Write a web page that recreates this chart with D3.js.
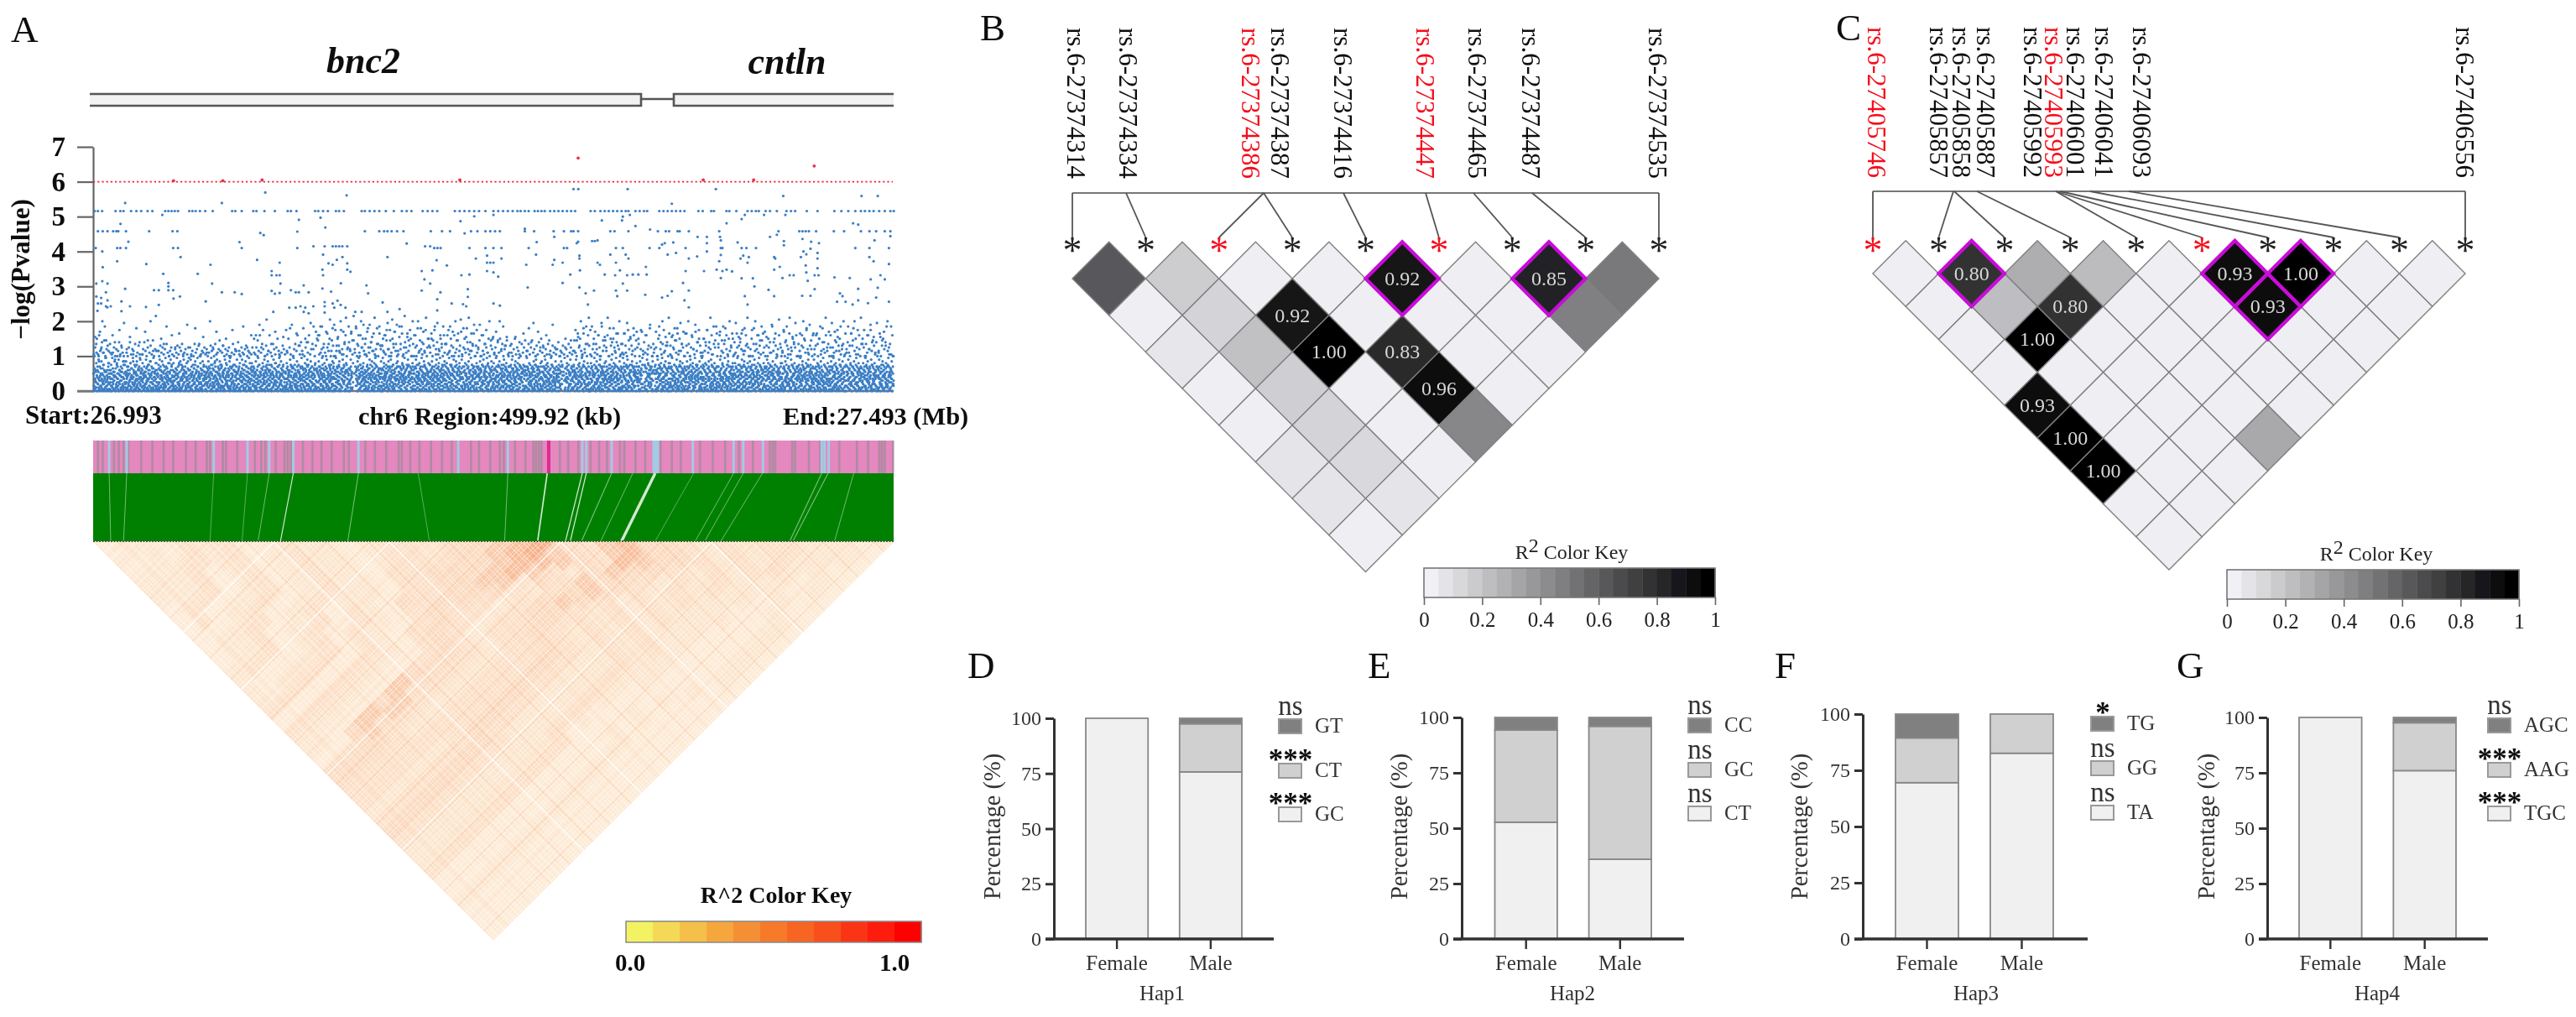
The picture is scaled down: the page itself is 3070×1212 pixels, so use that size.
<!DOCTYPE html>
<html><head><meta charset="utf-8">
<script src="https://d3js.org/d3.v7.min.js"></script>
<style>html,body{margin:0;padding:0;background:#fff}svg{display:block}text{font-family:'Liberation Serif','Times New Roman',serif}</style>
</head><body><svg id="root" width="3070" height="1212" viewBox="0 0 3070 1212"><defs><filter id="soft" filterUnits="userSpaceOnUse" x="0" y="0" width="3070" height="1212"><feGaussianBlur stdDeviation=".55"/></filter></defs><g id="c" filter="url(#soft)"><rect width="3070" height="1212" fill="#fff"/></g></svg>
<script>
// ---------- Panel A data ----------
const geneNames = ["bnc2","cntln"];
const pvalTicks = [0,1,2,3,4,5,6,7];
const threshold = 6;
const tier515 = [1,3,5.6,14,17,19,23.7,27,30,34,37,45,47,49,51,53,60,62,64,66.7,70,74.7,86.8,88.8,92.8,100,102,107,113.5,121.5,123.5,127,138.6,140.6,143.6,146.6,151.6,153.6,156.6,167.7,169.7,172.7,175.7,178.7,182.8,187.8,192.8,195.8,198.8,205.8,208.9,211.9,214.9,225.9,228.9,231.9,234.9,238,241,245,250,253,256,259,262,265,267,269.6,272,275.7,277.8,280,282,285.4,288,290.6,293.2,295.9,298.5,301,310.7,313.3,316.8,319.5,322,324.7,327.3,330,332.6,334.3,338.7,341.3,344,346,353.6,356.2,358.8,361.4,364,366.7,369.3,378,380.7,386,387.7,395.5,397.3,401.7,408.7,411.3,413.9,415.7,420,422.7,427,433,435.8,438.4,445.7,452.4,462.9,467.3,471.6,476,479.5,482,484.8,487.4,490.9,494.4,497.9,500];
const tier458 = [3,6,9,12.5,14.5,15.7,20.5,35,49.6,52.6,169.7,178.7,181.7,183.8,186.4,189.8,193.8,210.9,217.9,222.9,236,240,245,248,251,254,269.6,275.4,287.6,294,298.5,300,302.9,323,325.6,334.3,352.7,357.6,359.7,365,366.3,372,391,441,443,445,447,451.5,462.6,469,479.5,484.8,489,494.4,497.9];
const tier41 = [1.6,15,17,20.5,50,53,127.5,213,215,217,235,245,250,255,272,294,296,326.5,330.8,347.5,353.6,370,393,405,408,414,476,484.8,497];
const tier415 = [137.6,144.6,149.6,151.6,153.6,155.6,158.7,207.3,210.5];
const redHits = [[50.2,6.03],[81,6.03],[105.5,6.05],[229,6.05],[302.9,6.68],[450.3,6.45],[381,6.05],[412.5,6.05]];
const upperHits = [[20,5.39],[80.4,5.39],[107.5,5.69],[158.3,5.61],[43.2,5.05],[17.1,4.79],[128.5,4.91],[142,4.97],[145,4.69],[229.4,4.87],[238,5.01],[250,5.05],[104.4,4.53],[106.5,4.47],[127.5,4.57],[232,4.52],[22,4.28],[91.4,4.27],[92.8,4.1],[195.8,4.23],[5.7,4],[54.6,3.84],[102.4,3.76],[15,3.72],[33.2,3.64],[73.3,3.62],[116.5,3.68],[183.8,3.84],[143.6,3.91],[155.7,3.84],[152.2,3.76],[147,3.66],[149.6,3.62],[158.7,3.66],[214.5,3.75],[220.9,3.6],[239,3.8],[246,3.88],[255,3.8],[246,3.68],[248,3.68],[250,3.68],[6,3.55],[43.8,3.36],[65.3,3.36],[111.5,3.44],[114.5,3.32],[111.5,3.32],[116.5,3.32],[143.2,3.48],[143.6,3.32],[158.7,3.48],[160.7,3.42],[205.2,3.44],[211.9,3.46],[230,3.32],[235,3.34],[246,3.44],[250,3.4],[253,3.28],
[2,3.08],[5.7,3.15],[9,3.08],[8,2.83],[20,2.93],[47,3.1],[47,3.0],[38,2.89],[41,2.89],[47,2.89],[50,2.89],[74.3,3.08],[80.4,2.83],[88.4,2.83],[92.8,2.78],[117,3.08],[111.5,2.87],[113.5,2.79],[116.5,2.81],[123.5,2.89],[126.5,2.83],[128.5,2.83],[131.5,3.03],[134.6,2.83],[143.2,2.94],[148.6,2.85],[154.7,3.09],[170.7,3.03],[171.7,2.8],[205.2,2.88],[206.9,3.2],[210.5,3.08],[216.9,2.83],[234,2.92],
[2,2.71],[5,2.67],[9,2.6],[3,2.51],[5,2.51],[8,2.43],[11,2.43],[17.7,2.57],[17.7,2.29],[23,2.43],[33,2.41],[41,2.47],[50.2,2.65],[54.2,2.71],[70.3,2.57],[112.5,2.27],[122.5,2.39],[126.5,2.39],[129.5,2.43],[132.5,2.39],[137.5,2.43],[131.5,2.27],[134.6,2.23],[144.6,2.55],[144.6,2.43],[149.6,2.51],[152.6,2.59],[154.6,2.47],[157.6,2.39],[150.6,2.39],[180.8,2.54],[183.8,2.27],[191.4,2.35],[163.7,2.27],[167.7,2.27],[214.9,2.63],[214.9,2.31],[223.9,2.51],[231,2.49],[233,2.43],[234,2.7],[250,2.51],[254,2.45],
[288,4.42],[269.6,4.65],[277,4.27],[300,5.79],[303,5.79],[333.8,5.79],[388.9,5.79],[361.4,5.37],[431,5.59],[479.9,5.59],[490,5.59],[335.2,5.05],[330.8,5],[330.3,4.89],[317.7,4.89],[338.7,4.73],[407,5.05],[405,4.93],[395.6,4.81],[419,5.05],[432.3,5.05],[474.6,4.81],[477.8,4.77],[347.8,4.63],[302.9,4.28],[302,4.24],[311.6,4.3],[313.3,4.3],[315,4.32],[377.5,4.42],[383.3,4.42],[391.5,4.42],[392,4.32],[383.3,4.24],[402.5,4.26],[428,4.58],[422.7,4.42],[427,4.48],[443,4.36],[448.4,4.28],[453.3,4.24],[431.4,4.3],[431.4,4.18],[497.9,4.44],[488,4.32],[357,4.24],[355.3,4.2],[362.3,4.26],
[276.6,3.91],[303.7,3.88],[303.7,3.8],[288,3.76],[293.2,3.68],[287,3.62],[270.5,3.62],[323,3.91],[326.5,3.68],[332.6,3.91],[334.3,3.8],[315,3.68],[316.5,3.62],[358.8,3.91],[364,3.96],[372,3.8],[377.2,3.86],[383.3,4],[392,4.1],[392,3.9],[391,3.72],[389.4,3.48],[393,3.44],[395.6,3.48],[399,3.43],[392,3.24],[406,3.88],[404.3,3.8],[409.5,3.84],[408.7,3.68],[425.3,3.84],[426,3.8],[425.3,3.48],[428.8,3.56],[430.5,3.24],[435,3.32],[437.5,3.32],[445.4,3.92],[443.6,4],[442,3.84],[448,4.08],[452.4,3.96],[452.4,3.8],[445,3.6],[452.4,3.52],[445.4,3.4],[450.6,3.32],[453,3.32],[484.8,3.84],[487.4,3.72],[497,3.64],[491.7,3.32],[494.4,3.2],[485.6,3.2],
[298,3.34],[304,3.46],[293.2,3.1],[319.5,3.34],[326,3.32],[329,3.46],[333.5,3.32],[337,3.34],[340.5,3.34],[345.7,3.34],[345.2,3.56],[370,3.44],[381.5,3.44],[405,3.23],[412,3.23],[463,3.26],[472.5,3.24],[446.3,3.16],[368.4,3.1],[413,3],[271.4,2.97],[303.7,2.97],[330.8,3.08],
[326.5,2.88],[327.3,2.72],[333.5,2.88],[312.8,2.88],[307.6,2.8],[309,2.48],[344.8,2.76],[355.3,2.68],[358.8,2.73],[361.4,2.86],[372,2.88],[369.3,2.6],[372,2.4],[407,2.72],[408.7,2.48],[421.8,2.9],[425.3,2.72],[442.8,2.73],[448,2.73],[450.6,2.92],[466.4,2.8],[468,2.72],[477.8,2.93],[490,2.96],[489,2.68],[464.6,2.56],[469.9,2.56],[477.8,2.6],[483.9,2.52],[497,2.56],[474.3,2.48]];
// one string per 10 kb of the region; each character is a -log(P) reading in 0.05 steps; "." marks an empty spot
const floorBins = [
"0316259047183620594172063851","4170325968104273059618243705","2958140637295081462739015846","0637182945061738295041863720","5142093867215403968172065394",
"3860172945306182749503168240","7213960485217360948152037694","1504829637105248396071524983","6392017485363902174856301927","2741069358274160935827416093",
"0825317496082531749608253174","4691027385469102738546910273","1357086249135708624913570862","7048261593704826159370482615","2596043718259604371825960437",
"8103729546810372954681037295","0471825....39604718253960471","6295130847629513084762951308","3018467925301846792530184679","9462071358946207135894620713",
"1730594286173059428617305942","5083627419508362741950836274","2649180735264918073526491807","7315042968731504296873150429","0986273514098627351409862735",
"4127890356412789035641278903","6853019247685301924768530192","3290741865329074186532907418","1764528903176452890317645289","85024.....96176850243961768",
"2938471056293847105629384710","0175693824017569382401756938","7462018539746201853974620185","5329807614532980761453298076","3716094....25371609482537160",
"...1052783946105278394610527","2403761985240376198524037619","8951237460895123746089512374","1678042593167804259316780425","5024968137502496813750249681",
"3749105862374910586237491058","0862743915086274391508627439","6197380254619738025461973802","4530217689453021768945302176","9283564701928356470192835647",
"2076935148207693514820769351","7415086392741508639274150863","0392671854039267185403926718","5648392017564839201756483920","1825704369182570436918257043"];
const lowBins = [
"0a3k17c52m08e4b2h6019d3p7a14f60c82j5b39170e4g","1805c3a072d416b9i0283f5e71a0c4k92b60d381f7h25","40b17e2c9305a6g18d2074hc3b05e1a9f6420d7c1j38b","072c5a91e340b8d6127fa03c95h01e7b42d608a3c1g59","3a80d15c7e290b64f1a38c027ed59b1406ga27c3e0815",
"62b0193da7c05e81g4b2071f6d39a0c58e12b7046h3c9","05c2a8e13b607d94f0a2c63e18b5072kd49a1c06e3b78","917a03d5c2e8604bf1a93d07c25he8014b6a3d9c07f12","2e05b8a13c7d069f4a2b81c06e37d5a092f1c4b806e3a","a04c7e1928b05d63fa17c0924eb8036d1a5g02c7e9b34",
"06d3b91a72c5e084f2b6a19d03c7e58140be2a6d93c0f","3c81a05e7b294d06g1c3a85e02b7f4916d0a3ce82b507","b027d4e19a60c35f82b1e07d94a3c6082e5b1f7a039d4","19e06c3a82d5b07f4e1a93c60d28b5e047a1c9f3062db","5a02e8c17b4d90f36a1c805e27d4b93a06e1c7f28b04d",
"e30a7c15b92d608fe14a3c072b6d95e08a1c3f7b420d6","06c2e9a1..........b73d05e8c1a49f2b06d7e3a81c5","3b80e1c57a2d94f06b1e83c0a7d25f94e0b61c38a7d02","a5d07c3e19b28f4a06e2c71d93b05e8a1f4c27b06d39e","70e2b5a83d1c96f04e7a2b58c1d30e9f6a4b07d2c85e1",
"c3a06e1d85b27f94a0d3e6c18b52a07fe39d14c6a08b2","1f7b04d9e2a6c38b05f1d7a94e2c06b83d5a1e7c09f4b","6e0a3d82c5b17f09e4a6d1c38b07e25fa9d04c1e6b73a","d2807b5e1c3a96f40d2e7b8a15c06f39d2e0a7c4b81e5","04e9c2a7d1b83f56e0a4c9d27b18f03ea5d6c1b07e294",
"a71d06c3e5b28f94e1a7d0c36b52f8a09e1d4c73b06e2","39e1b07d4c2a86f05e3b1d9a07c4f28e6d0b5a1c37e92","c06a2e7d15b93f84a06e1c7d2b39f50e8a4d16c0b73e2","7b13e0a9d4c26f85b0e3a7c19d42f06e5b8a1d3c07e96","02d8a6c3e1b74f9.....0d26a5e8c17f3b90a4d6e2c18",
"e5c0b3a7d1924f68e0c5a3d7b19f06e24a8d1c7b30e59","4a07d2e6c1b83f95a0e4d6b27c18f05ea9d3c1b06e742","b92e0c5a7d13f68b04e9c2a7d51f3b08e6a1d4c7092eb","16d0a8e3c7b24f91d06e5a3c8b27f14e0d9a6c3b80e75","8c3e05b1a7d92f40.....e1b6d08a3f5c92e7d4a01b6c",
"...e3c7a05b1d28f96e4a0c7d31b85f0e2a6d9c14b07e3","d05a7e2c91b38f46a0e7d1c52b93f08e4a6d1c0b72e95","37c1e0a5d8b24f96c07e3a1d58b29f4e0c6a7d13b08e2","a84d06e2c1b75f93a0d8e6c23b17f05e4a9d2c60b1e37","05e9b3a7c1d26f84e0b5a9c73d12f06e8b4a1c7d30e95",
"c71a04e8d2b36f95c0a7e1d48b23f06e9a5c1d7b02e84","29d5e0a3c7b18f46d02e9a5c3b71f08e4d6a1c7b30e92","b6e03c8a1d75f29b0e6c3a8d14f70b5e2a9c0d6b13e78","71a4d0e6c2b85f39a0d7e4c61b28f05e3d9a1c7b04e86","e02c7a5d1b93f68e0c2a7d51b94f06e3a8c1d7b20e95",
"48d1a0e7c3b26f95d04a1e7c38b62f09e5a1d4c7b03e6","a3e07c5d2b19f84a0e3c7d52b18f06e9a4c1d7b02e36","06b9e2a7d4c18f35b0e6a9d27c41f08e3a5d1c7b60e92","d52a0c8e7b31f69d0a2c5e87b13f04e6d9a1c7b30e28","19c7e04a3d6b28f1c0e9a7d43b62f08e5a1d9c7b03e46"];
// readings from 0.5 upward in 0.05 steps
const bandBins = [
"0a3f16k2b8m4d07i3c5j1a9e2g60","2h05b9c1f7a3e60d8i2b4g1c7a05","17c0a4f2i6b3e9d05h1a7c2g4b80","3b6e0i1d8a4f25c7g0b3j9a1e6d2","0d5a8g2c7f1b4e90h3c6a1d8f5b2",
"6a1e3c9g0b5f7d2h4a8c1e06b3f9","2f8b0d5a3h7c1e94g0a6b2d7c5f1","b4e1a7c03g9d5f2a6h1b8c4e07d3","5c0g2a8e6b1d3f79a0c4h2b5e1d8","1i3d6a0f8c2b5e7g4a1d9c03b6f2",
"4k0b7f2a9d5m1c3h6e08a2g5b7d1","m2c5a0h8e3b6f1k4d9a07c2g5e1b","0p6c2k1f8b4s3a9e5h0d7m2g1b4i","9d3q0a6f2i8c5m1b7e4h0r3a6g2k","1m7b4r0e9a3h6c2o8f1d5k3a0j7g",
"6s2a9d4k1g7c0p3e8b5h1m6a2f0i","3d8o1b6j0e4r2a7g9c5m3f1k6d0h","k1a5q3c8f0i7d2n6b9e4h1a3r0g7","2g9d6m0b3p1e7a4j8c2k5f0o3h6a","7b1l4e0r6a3f9i2c5n8d1g4k0a6h",
"0m3f8a5q1c6j2e9b4h7d0p3a1k6g","5c2n7a0g4r1e8i3b6d9k2f5a0m7h","1h6b3p9d0k5a2f8m4c7e1j3a6g0o","8a4f1k6c0q3e7b2i9d5h1n4a0g6c","3e0j7a2m5d8b1h4f9c6k0a3g7e2l",
"6b2f9a1i4c7k0d5h3a8e2g6j1b4c","0g5c8a3e1k7b2f6d9i4a0h3c5f1j","4a9d2h6b0f3j1c7e5a8g2b4i0d6k","7c1f4a8e3b6h0j2d9a5g1c3f7b0e","2i5a0d7c4g1b9f3e6a2h0c8j4b1d",
"5j0c8a3n1f6k2d9b4q7e0h3a6m1g","1p6a4e0k9c3h7b2m5f8a1r4d0g6j","7d2m0a5q3g8b1k6f4c9i0n3e7a2h","3h9b6n1c4a8p0e5k2g7d1m4a0j6f","0k4a7e2o9d1i5c3m8b6g0q2f4a7h",
"c005f2a8k0m3e6b9h1p4d7g0i3a6n","6g3a9m1e5j0c8q2b4k7d1h6f0a3n","2n7c0h4a8f1l6e3b9o2d5i0k7g1a","9a5k2d6g0p3c7i1e8m4b0h6f3r1a","4f1m8a3j6c0h9q2e5b7k1d4g0n6a",
"0i6c3n9a2g5k1e8p4b7d0m3h6f1a","7e2k5a0q8d3h1m6c9g4b2j0n6f3a","3l8a6f1i4c0r7d2k5g9b1e3m0h6a","6c0p3a7j1g9e4n2b8d5k0i6f1m3a","1h5d9a2m7f3k0c6q4e8b1g5j0a3n",
"8b3g0n6a4k1r7d2i9e5c0m3f6h1a","2m7a4f9c1j6d3p0g8k5b2e7h0a4n","5e1i8c3a6n0g4q7d2k9f1b6m3a0h","0k6f2a9h4c7m1e3p8d5j0g6b2i4a","3c8n1a5g7k2e0i6r4d9f1h3b7m0a"];
// same idea from 1.0 to 2.75, for the sparser cloud
const midBins = [
"1b7q0e4k2h9s3","2c80f5j","4b1g8","1e9k3n","3a7h0c","5d1i","0g7b","2k4e9","6a0f3","1h5c",
"2c9i5f0l3","7e1b","3g0d6","1a8j4e","9c2h5p0d7l3g","0f6b3k1e8m4h","4d9n2g7c0k5i1","1e5i8b3m0g7d4","6a2c9j4f0l7e3i","3h7d1n5b9f0k",
"0c6k3g8e2m5a","5a9f1j4c7h2","7c2h6e0k9d3l","1g4b8m3d6i0f","5i0c7f2k9a","2e9k4h6b0","7b1d","3g8j0e5","6c1i4","0a5",
"3f9b6k0d2h7m","1h7e4c0j9b","5m0a8g3d6k1","2d6j9b1g4e","7f1c4i0","4e0h8k2b6m","1b5g9d3j7e0","6k0c4i8f2","2a8f5m1h9d","7e3h9c0k5a",
"1j5b8d3g6m0","0f7k4c9h2e","6a2i8d0l5","3e8h1m5b7j0","0d6k9f2i4c","4c7a1g8m3e","5j0e8b3h6k1","2h6d9k1f4m","7f0c4i8b2j","3b9e6k1h0"];
// reads of the strip and of the connecting band
const greyStripes = [3,6,13,16,19,22,30,37,44,50,58,64,71,73,81,83,90,101,105,107.5,114,119.5,121.5,123.5,131,137,142.6,149,156.6,159.7,170,176,183,190.8,192.8,198,203.8,211,217.9,224,228,236,241,248,254,256.5,263.5,270,275,276.6,278.4,280,291.5,296.7,303,310.7,316,321,329,331.7,338.7,344.8,354.4,361.4,367,379,387,394.7,403.4,412,422.6,424.4,426,436.6,438.4,447,454,466,477,484,491,492.6,494.4,499.6];
const blueStripes = [10,21,75.3,96.4,110,125,165.7,228,259,305.5,308,323.8,350,374.5,400,406,418.3,455,456.8,459.4];
const darkStripes = [284.5];
const connectorTops = [10,21,75.3,96.4,110,125,165.7,203,259,283.6,305.5,308,323.8,337,351,375,400,406,418,459,455,475];
const connectorBots = [11,19,73,93,103,117,159,210,257,277.6,295,298,305,317,330,351,376,382,392,437,435,463];
const connectorWide = [.9,.9,.7,.7,.9,1.2,1.0,.7,.9,1.7,1.2,1.2,1.1,.9,3.4,.7,.9,.9,.9,1.1,1.1,.9];
// LD triangle, readings per row from the top edge, 0 palest to 9 strongest
const ldRows = ["3443545345443455456678965786654545544434","344354534544345546678976578665454554443","43445453454434555667887658766545454443","3445345345443556667875467665454554433","444534534544355667756576654545444343","44453453454435566654567654545444343","4453453454436566545676545454443433","353453453543565545665454544433433","35345345354356545565545454443343","3345345354356545565454544433343","344534535435654556545454433343","34453453543565455654545433343","3453453543565455654454433343","453453543665455654454433343","43453543765455654454433343","4353543765455654454333433","453543675455654454334333","53543775455654453343333","3543765455654454334333","543675455654453343333","44366554565445334333","4366554565445334333","366554565445334333","66554565445334333","6554565445334333","554565445334333","54565445334333","4565445334333","565445334333","65445334333","5445334333","445334333","45334333","5334333","334333","34333","4333","333","33","3"];
const ldGapsStrong = [113,185,292,386];
const ldGapsWeak = [2.6,5.1,6.4,9.8,12.7,14.2,17.9,21.3,22.8,26.4,28.1,31.7,35.2,36.9,40.6,44.3,46,49.5,53.8,55.1,59.7,62.4,64.9,68.2,72.6,74.1,77.8,81.9,83.2,87.5,91.7,93.4,97.1,101.6,103.8,106.9,111.2,116.4,118.9,122.3,126.7,128.2,132.8,136.1,138.9,142.5,147.3,149.1,153.6,157.2,159.8,163.4,167.9,170.3,174.6,178.2,181.4,188.3,190.6,195.2,199.1,201.7,205.8,209.4,213.6,215.9,219.7,224.1,226.3,230.8,234.2,237.6,243.9,247.2,249.5,253.1,257.8,260.4,263.9,268.3,270.7,274.2,278.6,281.3,285.7,289.4,295.6,298.8,301.2,305.9,309.3,311.8,316.4,319.7,323.5,326.2,330.9,334.6,337.1,341.8,345.2,348.7,352.3,356.9,359.4,365.1,368.7,371.4,375.8,379.2,382.9,389.6,393.1,397.7,400.5,404.2,411.3,414.8,417.6,421.9,425.3,428.7,432.4,435.9,439.2,443.7,446.3,450.8,453.4,457.9,461.2,464.8,468.3,471.7,475.4,478.9,482.3,485.7,489.1,492.6,495.4,498.2];
const ldBandsWarm = [18,46,72,96,124,146,172,206,222,252,268,286,304,322,338,354,372,388,414,438,456,472,488];
const ldKeyLabels = ["0.0","1.0"];
// ---------- Panels B, C data ----------
const snpsB = ["rs.6-27374314","rs.6-27374334","rs.6-27374386","rs.6-27374387","rs.6-27374416","rs.6-27374447","rs.6-27374465","rs.6-27374487","rs.6-27374535"];
const redB = [2,5];
const rowsB = [[.63,.15,.01,.01,.92,.01,.85,.5],[.01,.12,.92,.01,.01,.01,.47],[.04,.2,1,.83,.01,.01],[.01,.14,.01,.96,.01],[.01,.12,.01,.44],[.05,.1,.01],[.05,.05],[.01]];
const hiB = [[0,4],[0,6]];
const snpsC = ["rs.6-27405746","rs.6-27405857","rs.6-27405858","rs.6-27405887","rs.6-27405992","rs.6-27405993","rs.6-27406001","rs.6-27406041","rs.6-27406093","rs.6-27406556"];
const redC = [0,5];
const rowsC = [[.01,.8,.28,.22,.01,.93,1,.01,.01],[.01,.21,.8,.01,.01,.93,.01,.01],[.01,1,.01,.01,.01,.01,.01],[.01,.01,.01,.01,.01,.01],[.93,.01,.01,.01,.01],[1,.01,.01,.3],[1,.01,.01],[.01,.01],[.01]];
const hiC = [[0,1],[0,5],[0,6],[1,5]];
const keyTicks = [0,.2,.4,.6,.8,1];
// ---------- Panels D-G data ----------
const sexes = ["Female","Male"];
const pctTicks = [0,25,50,75,100];
const hap1 = {name:"Hap1",labels:["GC","CT","GT"],sig:["***","***","ns"],Female:[100,0,0],Male:[75.7,21.8,2.5]};
const hap2 = {name:"Hap2",labels:["CT","GC","CC"],sig:["ns","ns","ns"],Female:[52.7,41.6,5.7],Male:[36,60,4]};
const hap3 = {name:"Hap3",labels:["TA","GG","TG"],sig:["ns","ns","*"],Female:[69.5,19.9,10.6],Male:[82.6,17.4,0]};
const hap4 = {name:"Hap4",labels:["TGC","AAG","AGC"],sig:["***","***","ns"],Female:[100,0,0],Male:[76,21.6,2.4]};
const barFills = ["#f0f0f0","#d0d0d0","#808080"];

const svg = d3.select("#c");
function txt(g,x,y,s,size,opt={}){const t=g.append("text").attr("x",x).attr("y",y).attr("font-size",size).attr("fill",opt.fill||"#111").text(s);
  if(opt.weight)t.attr("font-weight",opt.weight); if(opt.style)t.attr("font-style",opt.style); if(opt.anchor)t.attr("text-anchor",opt.anchor); if(opt.rot!=null)t.attr("transform",`rotate(${opt.rot} ${x} ${y})`); return t;}

// panel letters
[["A",13,50],["B",1168,48],["C",2188,48],["D",1153,808],["E",1630,808],["F",2115,808],["G",2594,808]].forEach(d=>txt(svg,d[1],d[2],d[0],45));

// ===== A =====
const gA = svg.append("g");
const xKb = d3.scaleLinear([0,499.92],[111,1065]);
const yP = d3.scaleLinear([0,7],[466,175]);
txt(gA,433,87,geneNames[0],44,{weight:"bold",style:"italic",anchor:"middle"});
txt(gA,938,88,geneNames[1],44,{weight:"bold",style:"italic",anchor:"middle"});
[[107,764],[803,1065]].forEach((e,i)=>{
  gA.append("rect").attr("x",e[0]).attr("y",112).attr("width",e[1]-e[0]).attr("height",14).attr("fill","#f2f2f2");
  const p=i==0?`M${e[0]},112H${e[1]}V126H${e[0]}`:`M${e[1]},112H${e[0]}V126H${e[1]}`;
  gA.append("path").attr("d",p).attr("fill","none").attr("stroke","#555").attr("stroke-width",2.6);
});
gA.append("line").attr("x1",764).attr("x2",803).attr("y1",118).attr("y2",118).attr("stroke","#555").attr("stroke-width",2.6);
const axP = gA.append("g").attr("transform","translate(111,0)").call(d3.axisLeft(yP).tickValues(pvalTicks).tickFormat(d3.format("d")).tickSize(19).tickPadding(14).tickSizeOuter(0));
axP.selectAll("path,line").attr("stroke","#666").attr("stroke-width",2.2);
axP.selectAll("text").attr("font-size",33).attr("font-weight","bold").attr("fill","#111").attr("font-family","Liberation Serif");
gA.append("line").attr("x1",92).attr("x2",1065).attr("y1",yP(0)).attr("y2",yP(0)).attr("stroke","#777").attr("stroke-width",2.4);
txt(gA,35,321,"−log(Pvalue)",31,{weight:"bold",anchor:"middle",rot:-90});
// points
const blue = [];
tier515.forEach(k=>blue.push([k,5.16]));
tier458.forEach(k=>blue.push([k,4.58]));
tier41.forEach(k=>blue.push([k,4.1]));
tier415.forEach(k=>blue.push([k,4.15]));
upperHits.forEach(d=>blue.push(d));
const reading = c=>parseInt(c,36)*0.05;
const addBins=(bins,base)=>bins.forEach((s,b)=>[...s].forEach((c,i)=>{if(c!==".")blue.push([(b+(i+.5)/s.length)*10,base+reading(c)]);}));
addBins(floorBins,0); addBins(lowBins,0); addBins(bandBins,.5); addBins(midBins,1);
gA.append("g").attr("fill","#3a7ec4").selectAll("circle").data(blue).join("circle").attr("cx",d=>xKb(d[0])).attr("cy",d=>yP(d[1])).attr("r",1.6);
gA.append("line").attr("x1",111).attr("x2",1064).attr("y1",yP(threshold)).attr("y2",yP(threshold)).attr("stroke","#f0203a").attr("stroke-width",1.8).attr("stroke-dasharray","2.2 3");
gA.append("g").attr("fill","#e8304a").selectAll("circle").data(redHits).join("circle").attr("cx",d=>xKb(d[0])).attr("cy",d=>yP(d[1])).attr("r",1.9);
txt(gA,30,505,"Start:26.993",31,{weight:"bold"});
txt(gA,427,506,"chr6 Region:499.92 (kb)",30.4,{weight:"bold"});
txt(gA,933,506,"End:27.493 (Mb)",30.4,{weight:"bold"});
// strip
gA.append("rect").attr("x",111).attr("y",525).attr("width",954).attr("height",39).attr("fill","#e488bf");
gA.append("g").selectAll("rect").data(greyStripes).join("rect").attr("x",d=>xKb(d)-1.3).attr("y",525).attr("width",2.6).attr("height",39).attr("fill","#8f8a8f").attr("opacity",.62);
gA.append("g").selectAll("rect").data(blueStripes).join("rect").attr("x",d=>xKb(d)-1.5).attr("y",525).attr("width",d=>d===350?8:3).attr("height",39).attr("fill","#a3cbe3");
gA.append("g").selectAll("rect").data(darkStripes).join("rect").attr("x",d=>xKb(d)-2).attr("y",525).attr("width",4).attr("height",39).attr("fill","#de2a92");
gA.append("rect").attr("x",111).attr("y",564).attr("width",954).attr("height",81).attr("fill","#018001");
gA.append("g").attr("stroke","#e8f4e8").selectAll("line").data(connectorTops).join("line").attr("x1",d=>xKb(d)).attr("y1",564).attr("x2",(d,i)=>xKb(connectorBots[i])).attr("y2",645).attr("stroke-width",(d,i)=>connectorWide[i]).attr("stroke-opacity",(d,i)=>connectorWide[i]<1.2?.55:.9);
// triangle
const nLD = ldRows.length;
const cellW = 954/nLD, triH = 475/nLD;
const ldColor = d3.scaleLinear([0,3,6,9],["#fff5e6","#fdeAd4","#fbdabf","#f6b088"]);
const topY=646;
d3.select("#root defs").append("clipPath").attr("id","tri").append("path").attr("d",`M111,${topY}H1065L588,${topY+475}Z`);
const gLD = gA.append("g").attr("clip-path","url(#tri)");
ldRows.forEach((row,r)=>{[...row].slice(0,nLD-r).forEach((c,i)=>{
  const cx = 111+cellW*(i+.5+r/2), cy = topY+triH*r;
  gLD.append("path").attr("d",`M${cx},${cy-triH-.4}L${cx+cellW/2+.4},${cy}L${cx},${cy+triH+.4}L${cx-cellW/2-.4},${cy}Z`).attr("fill",ldColor(+c));
});});
const slope=475/477;
function gapLines(list,w,op,col){
  list.forEach(k=>{const x=xKb(k);
    const dr=(1065-x)/2, dl=(x-111)/2;
    gLD.append("line").attr("x1",x).attr("y1",topY).attr("x2",x+dr).attr("y2",topY+dr*slope).attr("stroke",col).attr("stroke-width",w).attr("stroke-opacity",op);
    gLD.append("line").attr("x1",x).attr("y1",topY).attr("x2",x-dl).attr("y2",topY+dl*slope).attr("stroke",col).attr("stroke-width",w).attr("stroke-opacity",op);
  });}
gapLines(ldBandsWarm,1.6,.35,"#f8bf98");
gapLines(ldGapsWeak,1,.6,"#fff");
gapLines(ldGapsStrong,1.9,.75,"#fff");
gA.append("line").attr("x1",111).attr("x2",1065).attr("y1",645).attr("y2",645).attr("stroke","#3d5a2c").attr("stroke-width",2).attr("stroke-dasharray","2 1.5");
// A key
const keyA = d3.scaleLinear([0,.35,.7,1],["#f3f262","#f59a38","#f8501c","#ff0000"]);
const tilesA = d3.range(11).map(i=>i/10);
gA.append("g").selectAll("rect").data(tilesA).join("rect").attr("x",(d,i)=>746+i*32).attr("y",1098).attr("width",32.4).attr("height",25).attr("fill",d=>keyA(d));
gA.append("rect").attr("x",746).attr("y",1098).attr("width",352).attr("height",25).attr("fill","none").attr("stroke","#888").attr("stroke-width",1.5);
txt(gA,925,1076,"R^2 Color Key",28,{weight:"bold",anchor:"middle"});
txt(gA,751,1157,ldKeyLabels[0],29,{weight:"bold",anchor:"middle"});
txt(gA,1066,1157,ldKeyLabels[1],29,{weight:"bold",anchor:"middle"});

// ===== B, C =====
const ldGrey = d3.scaleLinear([0,1],["#f1f1f5","#000000"]);
function ldPanel(o){
  const g = svg.append("g");
  const n = o.snps.length;
  const xS = d3.scaleLinear([0,n-1],[o.x0,o.x1]);
  const h = (o.x1-o.x0)/(n-1)/2;
  o.labelX.forEach((x,i)=>{
    g.append("text").attr("transform",`translate(${x},${o.labelTop}) rotate(90)`).attr("dy",".33em").attr("font-size",o.labelSize).attr("fill",o.red.includes(i)?"#f5101c":"#111").text(o.snps[i]);
  });
  g.append("line").attr("x1",o.x0).attr("x2",o.x1).attr("y1",o.bracketY).attr("y2",o.bracketY).attr("stroke","#777").attr("stroke-width",2.2);
  o.lineTops.forEach((x,i)=>{
    g.append("line").attr("x1",x).attr("y1",o.bracketY).attr("x2",xS(i)).attr("y2",283).attr("stroke","#555").attr("stroke-width",1.8);
    g.append("text").attr("x",xS(i)).attr("y",314).attr("text-anchor","middle").attr("font-size",46).attr("fill",o.red.includes(i)?"#f5101c":"#222").text("*");
  });
  const poly=(cx,cy)=>`M${cx},${cy-h}L${cx+h},${cy}L${cx},${cy+h}L${cx-h},${cy}Z`;
  const cells=[];
  o.rows.forEach((row,r)=>row.forEach((v,c)=>cells.push({r,c,v,cx:xS(c+(r+1)/2),cy:o.y0+r*h})));
  g.append("g").selectAll("path").data(cells).join("path").attr("d",d=>poly(d.cx,d.cy)).attr("fill",d=>ldGrey(d.v)).attr("stroke","#808080").attr("stroke-width",1.4);
  const hi = cells.filter(d=>o.hi.some(e=>e[0]===d.r&&e[1]===d.c));
  g.append("g").selectAll("path").data(hi).join("path").attr("d",d=>poly(d.cx,d.cy)).attr("fill","none").attr("stroke","#c80cd8").attr("stroke-width",4.2).attr("stroke-linejoin","miter");
  g.append("g").selectAll("text").data(cells.filter(d=>d.v>=.8)).join("text").attr("x",d=>d.cx).attr("y",d=>d.cy+8).attr("text-anchor","middle").attr("font-size",24).attr("fill","#d8d8d8").text(d=>d.v.toFixed(2));
  // key
  const xK = d3.scaleLinear([0,1],[o.keyX0,o.keyX1]);
  const tiles = d3.range(20).map(i=>i/19);
  const tw=(o.keyX1-o.keyX0)/20;
  g.append("g").selectAll("rect").data(tiles).join("rect").attr("x",(d,i)=>o.keyX0+i*tw).attr("y",o.keyY).attr("width",tw+.4).attr("height",35).attr("fill",d=>ldGrey(d));
  g.append("rect").attr("x",o.keyX0).attr("y",o.keyY).attr("width",o.keyX1-o.keyX0).attr("height",35).attr("fill","none").attr("stroke","#777").attr("stroke-width",1.6);
  const ax=g.append("g").attr("transform",`translate(0,${o.keyY+35})`).call(d3.axisBottom(xK).tickValues(keyTicks).tickFormat(d=>d===0||d===1?d3.format("d")(d):d3.format(".1f")(d)).tickSize(9).tickPadding(8).tickSizeOuter(0));
  ax.select(".domain").remove();
  ax.selectAll("line").attr("stroke","#666").attr("stroke-width",1.6);
  ax.selectAll("text").attr("font-size",25).attr("fill","#222").attr("font-family","Liberation Serif");
  const t=g.append("text").attr("x",o.keyTitleX).attr("y",o.keyY-11).attr("text-anchor","middle").attr("font-size",24).attr("fill","#222");
  t.append("tspan").text("R");t.append("tspan").attr("dy",-8).text("2");t.append("tspan").attr("dy",8).text(" Color Key");
}
ldPanel({snps:snpsB,red:redB,rows:rowsB,hi:hiB,x0:1278,x1:1977,y0:332,bracketY:230,labelTop:33,labelSize:31,
  labelX:[1282,1344,1490,1525,1600,1698,1760,1824,1975],lineTops:[1278,1342,1506,1506,1601,1699,1756,1826,1977],keyX0:1697,keyX1:2044,keyY:677,keyTitleX:1873});
ldPanel({snps:snpsC,red:redC,rows:rowsC,hi:hiC,x0:2232,x1:2938,y0:326,bracketY:228,labelTop:32,labelSize:31,
  labelX:[2236,2310,2337,2366,2422,2447,2473,2507,2552,2937],lineTops:[2232,2328,2329,2356,2450,2450,2455,2491,2537,2938],keyX0:2654,keyX1:3002,keyY:679,keyTitleX:2832});

// ===== D-G =====
function hapPanel(h,o){
  const g=svg.append("g");
  const y=d3.scaleLinear([0,100],[o.y0,o.y100]);
  const x=d3.scaleBand(sexes,[o.bar0,o.bar1]).paddingInner(.336).paddingOuter(0);
  const series=d3.stack().keys([0,1,2])(sexes.map(s=>h[s]));
  series.forEach((sr,k)=>{
    g.append("g").selectAll("rect").data(sr.map((d,i)=>({d,s:sexes[i]})).filter(e=>e.d[1]>e.d[0])).join("rect")
     .attr("x",e=>x(e.s)).attr("width",x.bandwidth()).attr("y",e=>y(e.d[1])).attr("height",e=>y(e.d[0])-y(e.d[1]))
     .attr("fill",barFills[k]).attr("stroke","#888").attr("stroke-width",1.8);
  });
  const ay=g.append("g").attr("transform",`translate(${o.axisX},0)`).call(d3.axisLeft(y).tickValues(pctTicks).tickSize(10).tickPadding(5).tickSizeOuter(0));
  ay.selectAll("path,line").attr("stroke","#333").attr("stroke-width",3);
  ay.selectAll("text").attr("font-size",24).attr("fill","#333").attr("font-family","Liberation Serif");
  const ax=g.append("g").attr("transform",`translate(0,${o.y0})`).call(d3.axisBottom(x).tickSize(12).tickPadding(7).tickSizeOuter(0));
  ax.select(".domain").remove();
  ax.selectAll("line").attr("stroke","#333").attr("stroke-width",2.4);
  ax.selectAll("text").attr("font-size",25).attr("fill","#333").attr("font-family","Liberation Serif");
  g.append("line").attr("x1",o.axisX-10).attr("x2",o.axisEnd).attr("y1",o.y0).attr("y2",o.y0).attr("stroke","#333").attr("stroke-width",3.4);
  txt(g,o.labX,985,"Percentage (%)",28.4,{anchor:"middle",rot:-90,fill:"#333"});
  txt(g,o.hapX,1192,h.name,25,{anchor:"middle",fill:"#333"});
  [2,1,0].forEach((k,i)=>{
    const sy=o.swatchY[i];
    g.append("rect").attr("x",o.swX).attr("y",sy).attr("width",27).attr("height",17).attr("fill",barFills[k]).attr("stroke","#999").attr("stroke-width",2);
    txt(g,o.swX+43,sy+16,h.labels[k],25,{fill:"#333"});
    const s=h.sig[k];
    if(s==="ns") txt(g,o.swX+14,sy-5,s,33,{anchor:"middle",fill:"#333"});
    else txt(g,o.swX+14,sy+7,s,35,{anchor:"middle",fill:"#111",weight:"bold"});
  });
}
hapPanel(hap1,{axisX:1256,y0:1119,y100:856,bar0:1294,bar1:1480,axisEnd:1518,labX:1192,hapX:1385,swX:1524,swatchY:[857,910,962]});
hapPanel(hap2,{axisX:1742,y0:1119,y100:855,bar0:1781.5,bar1:1968,axisEnd:2007,labX:1677,hapX:1874,swX:2012,swatchY:[856,909,961]});
hapPanel(hap3,{axisX:2220,y0:1119,y100:851,bar0:2259,bar1:2447,axisEnd:2488,labX:2154,hapX:2355,swX:2492,swatchY:[854,907,960]});
hapPanel(hap4,{axisX:2702,y0:1119,y100:855,bar0:2740,bar1:2927,axisEnd:2965,labX:2639,hapX:2833,swX:2965,swatchY:[856,909,961]});
</script></body></html>
